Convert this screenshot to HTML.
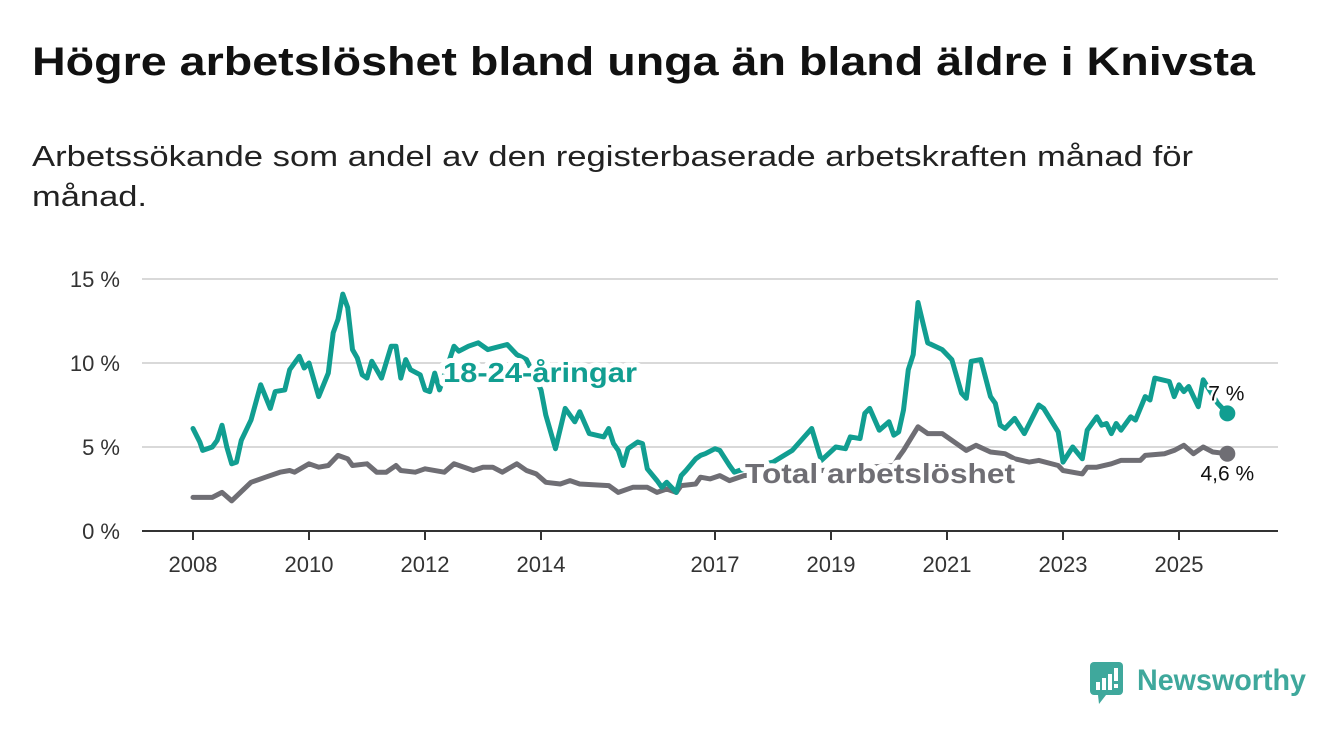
<!DOCTYPE html>
<html><head><meta charset="utf-8">
<style>
body{margin:0;background:#fff;}
svg{display:block;font-family:"Liberation Sans",sans-serif;}
</style></head>
<body>
<svg id="chart" width="1340" height="734" viewBox="0 0 1340 734">
<text x="32" y="75" font-size="40" font-weight="bold" fill="#111" textLength="1223" lengthAdjust="spacingAndGlyphs">Högre arbetslöshet bland unga än bland äldre i Knivsta</text>
<text x="32" y="166" font-size="29" fill="#222" textLength="1161" lengthAdjust="spacingAndGlyphs">Arbetssökande som andel av den registerbaserade arbetskraften månad för</text>
<text x="32" y="206" font-size="29" fill="#222" textLength="115" lengthAdjust="spacingAndGlyphs">månad.</text>
<g id="grid"></g>
<g id="xaxis"></g>
<g id="series"></g>
<g id="labels"></g>
<g>
<rect x="1090" y="662" width="33" height="33" rx="4" fill="#3fa89c"/>
<polygon points="1098,695 1106,695 1099,704" fill="#3fa89c"/>
<rect x="1096" y="682" width="4" height="8" fill="#fff"/>
<rect x="1102" y="678" width="4" height="12" fill="#fff"/>
<rect x="1108" y="674" width="4" height="16" fill="#fff"/>
<rect x="1114" y="668" width="4" height="13" fill="#fff"/>
<rect x="1114" y="684" width="4" height="4" fill="#fff"/>
<text x="1137" y="690" font-size="30" font-weight="bold" fill="#3fa89c" textLength="169" lengthAdjust="spacingAndGlyphs">Newsworthy</text>
</g>
</svg>
<script>
// months since Jan 2008
const youthMonths=[0,1.4,2,4,5,6,7,8,9,10,12,14,16,17,19,20,22,23,24,26,28,29,30,31,32,33,34,35,36,37,39,41,42,43,44,45,47,48,49,50,51,54,55,57,59,61,65,67,69,72,73,75,77,79,80,82,85,86,87,88,89,90,92,93,94,96,97,98,100,101,102,104,105,106,108,109,111,112,113,116,120,124,128,130,133,135,136,138,139,140,142,144,145,146,147,148,149,150,152,155,157,159,160,161,163,165,166,167,168,170,172,175,176,179,180,182,184,185,187,188,189,190,191,192,194,195,197,198,199,202,203,204,205,206,208,209,212,214];
const youthValues=[6.1,5.3,4.8,5.0,5.4,6.3,5.0,4.0,4.1,5.4,6.6,8.7,7.3,8.3,8.4,9.6,10.4,9.7,10.0,8.0,9.4,11.8,12.6,14.1,13.3,10.8,10.3,9.3,9.1,10.1,9.1,11.0,11.0,9.1,10.2,9.6,9.3,8.4,8.3,9.4,8.4,11.0,10.7,11.0,11.2,10.8,11.1,10.5,10.2,8.4,6.9,4.9,7.3,6.5,7.1,5.8,5.6,6.1,5.2,4.8,3.9,4.9,5.3,5.2,3.7,3.0,2.6,2.9,2.3,3.3,3.6,4.3,4.5,4.6,4.9,4.8,3.9,3.5,3.6,3.8,4.1,4.8,6.1,4.2,5.0,4.9,5.6,5.5,7.0,7.3,6.0,6.5,5.7,5.9,7.2,9.6,10.5,13.6,11.2,10.8,10.2,8.2,7.9,10.1,10.2,8.0,7.6,6.3,6.1,6.7,5.8,7.5,7.3,5.9,4.1,5.0,4.3,6.0,6.8,6.3,6.4,5.8,6.4,6.0,6.8,6.6,8.0,7.8,9.1,8.9,8.0,8.7,8.3,8.6,7.4,9.0,7.6,7.0];
const totalMonths=[0,4,6,8,12,15,18,20,21,24,26,28,30,32,33,36,38,40,42,43,46,48,52,54,57,58,60,62,64,67,69,71,73,76,78,80,86,88,91,94,96,98,100,101,104,105,107,109,111,114,125,135,145,146,147,150,152,155,156,160,162,165,168,170,173,175,179,180,184,185,187,190,192,196,197,201,203,205,207,209,211,214];
const totalValues=[2.0,2.0,2.3,1.8,2.9,3.2,3.5,3.6,3.5,4.0,3.8,3.9,4.5,4.3,3.9,4.0,3.5,3.5,3.9,3.6,3.5,3.7,3.5,4.0,3.7,3.6,3.8,3.8,3.5,4.0,3.6,3.4,2.9,2.8,3.0,2.8,2.7,2.3,2.6,2.6,2.3,2.5,2.3,2.7,2.8,3.2,3.1,3.3,3.0,3.3,3.5,3.7,3.9,4.4,4.8,6.2,5.8,5.8,5.6,4.8,5.1,4.7,4.6,4.3,4.1,4.2,3.9,3.6,3.4,3.8,3.8,4.0,4.2,4.2,4.5,4.6,4.8,5.1,4.6,5.0,4.7,4.6];
const yTicks=[0,5,10,15];
const yTickLabels=["0 %","5 %","10 %","15 %"];
const xTickYears=[2008,2010,2012,2014,2017,2019,2021,2023,2025];

const NS="http://www.w3.org/2000/svg";
const X0=193, PXM=58/12, Y0=531, PXV=16.8;
const xM=m=>X0+m*PXM;
const xY=y=>X0+(y-2008)*58;
const yV=v=>Y0-v*PXV;
function mk(tag,attrs,parent){const e=document.createElementNS(NS,tag);for(const k in attrs)e.setAttribute(k,attrs[k]);parent.appendChild(e);return e;}
const grid=document.getElementById('grid');
yTicks.forEach((t,i)=>{
  if(t>0){const l=mk('line',{x1:142,x2:1278,y1:yV(t),y2:yV(t),stroke:'#d9d9d9','stroke-width':2},grid);
  
  }
  const tx=mk('text',{x:120,y:yV(t)+8,'text-anchor':'end','font-size':22,fill:'#333'},grid);
  tx.textContent=yTickLabels[i];
  
  
});
const xa=document.getElementById('xaxis');
const ax=mk('line',{x1:142,x2:1278,y1:Y0,y2:Y0,stroke:'#333','stroke-width':2},xa);


xTickYears.forEach(yr=>{
  const t=mk('line',{x1:xY(yr),x2:xY(yr),y1:Y0,y2:Y0+9,stroke:'#333','stroke-width':2},xa);
  
  
  const tx=mk('text',{x:xY(yr),y:572,'text-anchor':'middle','font-size':22,fill:'#333'},xa);
  tx.textContent=yr;
  
  
});
const sg=document.getElementById('series');
function line(ms,vs,color,name){
  const d=ms.map((m,i)=>(i?'L':'M')+xM(m).toFixed(1)+','+yV(vs[i]).toFixed(1)).join('');
  const p=mk('path',{d:d,fill:'none',stroke:color,'stroke-width':5,'stroke-linejoin':'round','stroke-linecap':'round'},sg);
  
  
  const n=ms.length-1;
  const c=mk('circle',{cx:xM(ms[n]),cy:yV(vs[n]),r:8,fill:color},sg);
  
  
}
line(totalMonths,totalValues,'#6f6e74','total');
line(youthMonths,youthValues,'#119e91','youth');
const lg=document.getElementById('labels');
function lab(x,y,txt,color,size,bold,name,anchor,len){
  const a={x:x,y:y,'font-size':size,'font-weight':bold?'bold':'normal',fill:color,stroke:'#fff','stroke-width':bold?10:5,'paint-order':'stroke','stroke-linejoin':'round','text-anchor':anchor||'start'};
  if(len){a.textLength=len;a.lengthAdjust='spacingAndGlyphs';}
  const t=mk('text',a,lg);
  t.textContent=txt;
  
  
}
lab(443,382,'18-24-åringar','#119e91',28,true,'youth-series-label','start',194);
lab(745,483,'Total arbetslöshet','#6f6e74',28,true,'total-series-label','start',270);
const yn=youthValues.length-1, tn=totalValues.length-1;
lab(xM(youthMonths[yn])-1,yV(youthValues[yn])-13,'7 %','#111',21,false,'youth-end-label','middle');
lab(xM(totalMonths[tn]),yV(totalValues[tn])+27,'4,6 %','#111',21,false,'total-end-label','middle');
</script>
</body></html>
